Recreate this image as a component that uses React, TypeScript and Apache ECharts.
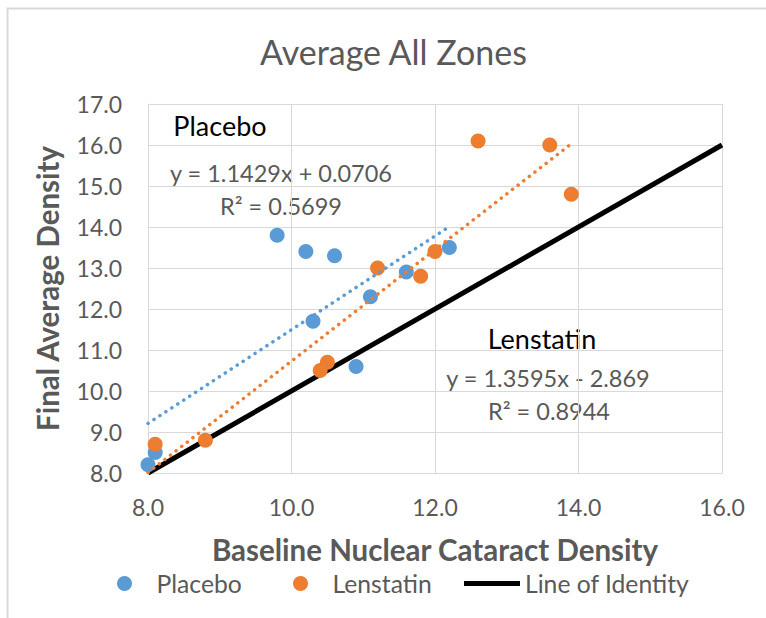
import React, { useEffect, useRef } from "react";
import * as echarts from "echarts";

const chartTitle = "Average All Zones";
const xAxisName = "Baseline Nuclear Cataract Density";
const yAxisName = "Final Average Density";

const placeboX = [9.8, 10.2, 10.6, 10.3, 11.1, 11.6, 12.2, 10.9, 8.1, 8.0];
const placeboY = [13.8, 13.4, 13.3, 11.7, 12.3, 12.9, 13.5, 10.6, 8.5, 8.2];
const lenstatinX = [12.6, 13.6, 13.9, 12.0, 11.2, 11.8, 10.5, 10.4, 8.8, 8.1];
const lenstatinY = [16.1, 16.0, 14.8, 13.4, 13.0, 12.8, 10.7, 10.5, 8.8, 8.7];
const identityX = [8.0, 16.0];
const identityY = [8.0, 16.0];
const placeboTrendX = [8.0, 12.2];
const placeboTrendY = [9.21, 14.01];
const lenstatinTrendX = [8.0, 13.9];
const lenstatinTrendY = [8.01, 16.03];

const placeboEq = "y = 1.1429x + 0.0706";
const placeboR2 = "R² = 0.5699";
const lenstatinEq = "y = 1.3595x - 2.869";
const lenstatinR2 = "R² = 0.8944";

const BLUE = "#5B9BD5";
const ORANGE = "#ED7D31";
const GRAY = "#595959";
const GRID = "#D9D9D9";
const FONT = "Lato";

const pairs = (xs: number[], ys: number[]) => xs.map((x, i) => [x, ys[i]]);

export default function App() {
  const ref = useRef<HTMLDivElement>(null);
  useEffect(() => {
    if (!ref.current) return;
    const chart = echarts.init(ref.current, undefined, { renderer: "svg" });
    const legendBase = {
      top: 571,
      padding: 0,
      itemHeight: 15,
      textStyle: { color: GRAY, fontSize: 24.7, lineHeight: 22, fontFamily: FONT },
      selectedMode: false,
    };
    chart.setOption({
      animation: false,
      backgroundColor: "#fff",
      textStyle: { fontFamily: FONT },
      title: {
        text: chartTitle,
        left: 255,
        top: 29,
        textStyle: { color: GRAY, fontSize: 34, fontWeight: "normal", fontFamily: FONT },
      },
      grid: { left: 148, right: 44, top: 104, bottom: 145 },
      legend: [
        { ...legendBase, left: 117, itemWidth: 54, data: [{ name: "Placebo", icon: "circle" }] },
        { ...legendBase, left: 293, itemWidth: 54, data: [{ name: "Lenstatin", icon: "circle" }] },
        { ...legendBase, left: 464, itemWidth: 56, itemHeight: 5, data: [{ name: "Line of Identity", icon: "rect" }] },
      ],
      xAxis: {
        type: "value",
        min: 8,
        max: 16,
        interval: 2,
        name: xAxisName,
        nameLocation: "middle",
        nameGap: 63.5,
        nameTextStyle: { color: GRAY, fontSize: 29.5, lineHeight: 26, fontWeight: "bold", fontFamily: FONT },
        axisLine: { show: true, lineStyle: { color: GRID, width: 1 } },
        axisTick: { show: false },
        axisLabel: { color: GRAY, fontSize: 23, margin: 22, fontFamily: FONT, formatter: (v: number) => v.toFixed(1) },
        splitLine: { show: true, lineStyle: { color: GRID, width: 1 } },
      },
      yAxis: {
        type: "value",
        min: 8,
        max: 17,
        interval: 1,
        name: yAxisName,
        nameLocation: "middle",
        nameGap: 86,
        nameTextStyle: { color: GRAY, fontSize: 29.5, fontWeight: "bold", fontFamily: FONT },
        axisLine: { show: true, lineStyle: { color: GRID, width: 1 } },
        axisTick: { show: false },
        axisLabel: { color: GRAY, fontSize: 23, margin: 26, fontFamily: FONT, formatter: (v: number) => v.toFixed(1) },
        splitLine: { show: true, lineStyle: { color: GRID, width: 1 } },
      },
      series: [
        {
          name: "Line of Identity",
          type: "line",
          data: pairs(identityX, identityY),
          showSymbol: false,
          symbol: "none",
          color: "#000",
          lineStyle: { color: "#000", width: 5 },
          z: 1,
        },
        {
          name: "Placebo",
          type: "scatter",
          data: pairs(placeboX, placeboY),
          symbolSize: 15,
          itemStyle: { color: BLUE, opacity: 1 },
          z: 2,
        },
        {
          name: "Lenstatin",
          type: "scatter",
          data: pairs(lenstatinX, lenstatinY),
          symbolSize: 15,
          itemStyle: { color: ORANGE, opacity: 1 },
          z: 3,
        },
        {
          name: "Placebo trend",
          type: "line",
          data: pairs(placeboTrendX, placeboTrendY),
          showSymbol: false,
          symbol: "none",
          lineStyle: { color: BLUE, width: 3.5, type: [0.1, 7], cap: "round" },
          z: 4,
        },
        {
          name: "Lenstatin trend",
          type: "line",
          data: pairs(lenstatinTrendX, lenstatinTrendY),
          showSymbol: false,
          symbol: "none",
          lineStyle: { color: ORANGE, width: 3.5, type: [0.1, 7], cap: "round" },
          z: 4,
        },
      ],
      graphic: [
        { type: "rect", silent: true, shape: { x: 7.5, y: 8.5, width: 900, height: 800 }, style: { fill: "none", stroke: GRID, lineWidth: 2 }, z: -1 },
        { type: "text", style: { x: 220, y: 125, text: "Placebo", fill: "#000", fontSize: 27, fontFamily: FONT, align: "center", verticalAlign: "middle" } },
        { type: "text", style: { x: 281, y: 173, text: placeboEq, fill: GRAY, fontSize: 23.5, fontFamily: FONT, align: "center", verticalAlign: "middle" } },
        { type: "text", style: { x: 281, y: 206, text: placeboR2, fill: GRAY, fontSize: 23.5, fontFamily: FONT, align: "center", verticalAlign: "middle" } },
        { type: "text", style: { x: 542, y: 338, text: "Lenstatin", fill: "#000", fontSize: 27, fontFamily: FONT, align: "center", verticalAlign: "middle" } },
        { type: "text", style: { x: 548, y: 378, text: lenstatinEq, fill: GRAY, fontSize: 23.5, fontFamily: FONT, align: "center", verticalAlign: "middle" } },
        { type: "text", style: { x: 549, y: 411, text: lenstatinR2, fill: GRAY, fontSize: 23.5, fontFamily: FONT, align: "center", verticalAlign: "middle" } },
      ],
    });
    return () => chart.dispose();
  }, []);
  return <div ref={ref} style={{ position: "absolute", left: 0, top: 0, width: 766, height: 618 }} />;
}
